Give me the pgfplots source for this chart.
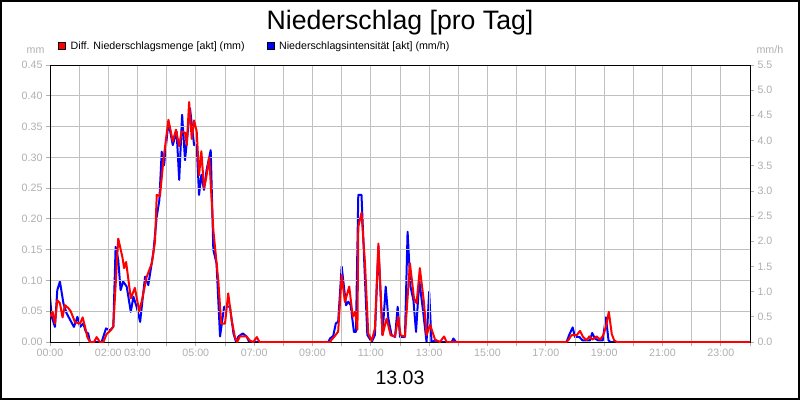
\documentclass[border=0pt]{standalone}
\usepackage{fontspec}
\setmainfont{Liberation Sans}
\usepackage{pgfplots}
\pgfplotsset{compat=1.18}
\usepackage{pgfplotstable}

\definecolor{lbl}{RGB}{176,176,176}
\definecolor{gridc}{RGB}{192,192,192}

% Diff. Niederschlagsmenge, mm (left axis); x in hours
\pgfplotstableread{
h mm
0.00 0.041
0.09 0.049
0.17 0.030
0.25 0.068
0.34 0.063
0.43 0.040
0.51 0.060
0.63 0.055
0.71 0.050
0.86 0.032
1.03 0.030
1.12 0.040
1.20 0.025
1.28 0.008
1.37 0
1.51 0
1.60 0.008
1.71 0
1.83 0
1.94 0.013
2.06 0.018
2.17 0.025
2.34 0.168
2.49 0.136
2.54 0.120
2.61 0.130
2.77 0.071
2.91 0.088
3.06 0.050
3.14 0.065
3.31 0.105
3.49 0.128
3.60 0.163
3.66 0.239
3.77 0.237
3.89 0.296
4.06 0.361
4.21 0.326
4.32 0.345
4.43 0.318
4.51 0.342
4.63 0.340
4.69 0.320
4.77 0.390
4.86 0.330
4.94 0.360
5.03 0.342
5.11 0.271
5.19 0.310
5.28 0.250
5.35 0.265
5.46 0.300
5.60 0.182
5.77 0.100
5.87 0.030
6.00 0.030
6.11 0.079
6.23 0.035
6.34 0.008
6.42 0
6.51 0.009
6.74 0.009
6.86 0.002
6.97 0
7.09 0.008
7.18 0
9.60 0
9.66 0.004
9.77 0.010
9.88 0.017
10.00 0.109
10.11 0.065
10.26 0.090
10.38 0.041
10.46 0.049
10.54 0.020
10.57 0.187
10.68 0.210
10.80 0.128
10.91 0.014
11.03 0.002
11.14 0.022
11.26 0.160
11.40 0.011
11.54 0.038
11.68 0.011
11.83 0.009
11.94 0.041
12.02 0.011
12.17 0.009
12.34 0.128
12.48 0.071
12.57 0.063
12.68 0.120
12.82 0.065
12.91 0.011
13.03 0.028
13.20 0.004
13.37 0
13.51 0.009
13.60 0
17.71 0
17.77 0.003
17.88 0.011
18.06 0.011
18.17 0.018
18.28 0.008
18.40 0.003
18.49 0.009
18.60 0.004
18.74 0.009
18.86 0.004
18.97 0.011
19.06 0.025
19.16 0.049
19.26 0.013
19.34 0.003
19.43 0
24.00 0
}\menge

% Niederschlagsintensitaet, mm/h (right axis)
\pgfplotstableread{
h mmh
0.00 0.90
0.06 0.50
0.17 0.30
0.25 1.03
0.34 1.20
0.46 0.77
0.57 0.57
0.69 0.44
0.82 0.30
0.94 0.50
1.03 0.30
1.14 0.37
1.23 0.20
1.31 0.17
1.37 0
1.77 0
1.92 0.27
2.06 0.23
2.17 0.30
2.25 1.89
2.34 1.63
2.42 1.03
2.51 1.20
2.63 1.10
2.77 0.60
2.86 0.90
2.97 0.70
3.09 0.40
3.26 1.30
3.37 1.13
3.54 1.76
3.66 2.49
3.75 2.82
3.83 3.78
3.91 3.51
4.06 4.37
4.21 3.91
4.34 4.18
4.43 3.22
4.53 4.51
4.63 3.61
4.80 4.64
4.94 3.91
5.03 3.91
5.11 2.92
5.19 3.32
5.28 3.02
5.37 3.42
5.51 3.81
5.60 1.83
5.71 1.56
5.83 0.11
5.97 0.70
6.17 0.70
6.29 0.17
6.38 0
6.46 0.11
6.61 0.17
6.74 0.11
6.83 0
9.54 0
9.60 0.07
9.71 0.12
9.80 0.37
9.88 0.40
10.00 1.50
10.15 0.73
10.23 0.80
10.31 0.73
10.42 0.20
10.49 0.20
10.57 2.92
10.68 2.92
10.80 1.23
10.88 0.14
11.03 0
11.14 0.14
11.26 1.90
11.40 0.14
11.51 1.10
11.60 0.47
11.71 0.14
11.83 0.10
11.92 0.70
12.00 0.10
12.17 0.10
12.26 2.19
12.36 1.10
12.46 0.83
12.55 0.20
12.66 1.23
12.80 0.57
12.91 0
13.00 1.00
13.08 0
13.20 0.03
13.37 0
13.77 0
13.83 0.07
13.92 0
17.71 0
17.80 0.14
17.92 0.29
18.00 0.10
18.15 0.10
18.26 0.03
18.51 0.03
18.59 0.18
18.68 0.07
18.80 0.03
18.95 0.03
19.06 0.49
19.15 0.03
19.22 0
24.00 0
}\intens

\pgfplotsset{
  layers/chart/.define layer set={axis background,axis grid,axis ticks,axis lines,axis tick labels,main,axis descriptions,axis foreground}{},
  base/.style={
    set layers=chart,
    scale only axis, width=700pt, height=277pt,
    at={(50pt,58pt)}, anchor=south west,
    xmin=0, xmax=24, ymin=0,
    tick align=outside, major tick length=4pt,
    tick style={lbl, line width=0.8pt},
    ticklabel style={font=\fontsize{10.67}{12}\selectfont, text=lbl},
    /pgf/number format/assume math mode=true,
    axis line style={black, line width=1pt},
    xtick={0,1,...,24},
    xticklabels={00:00,{},02:00,03:00,{},05:00,{},07:00,{},09:00,{},11:00,{},13:00,{},15:00,{},17:00,{},19:00,{},21:00,{},23:00,{}},
  },
  sq/.style={legend image code/.code={\draw[black, fill=#1, line width=0.5pt] (0pt,-3.5pt) rectangle (7pt,3.5pt);}},
}

\begin{document}
\begin{tikzpicture}
\fill[white] (0,0) rectangle (800pt,400pt);

\begin{axis}[base,
  ymax=5.5,
  hide x axis,
  axis y line*=right,
  ytick={0,0.5,1,1.5,2,2.5,3,3.5,4,4.5,5,5.5},
  yticklabel style={/pgf/number format/.cd, fixed, fixed zerofill, precision=1},
]
\addplot[blue, line width=2pt, line join=round] table[x=h, y=mmh] {\intens};
\end{axis}

\begin{axis}[base,
  ymax=0.45,
  xtick pos=bottom, ytick pos=left,
  ytick={0,0.05,0.1,0.15,0.2,0.25,0.3,0.35,0.4,0.45},
  yticklabel style={/pgf/number format/.cd, fixed, fixed zerofill, precision=2},
  grid=major,
  grid style={gridc, line width=1pt},
  legend columns=2,
  legend cell align=left,
  legend style={at={(axis description cs:0,1)}, anchor=south west,
    xshift=8pt, yshift=12pt, draw=none, fill=none, inner sep=0pt,
    font=\fontsize{10.67}{12}\selectfont,
    nodes={inner sep=2pt},
    /tikz/every odd column/.append style={column sep=3pt},
    /tikz/every even column/.append style={column sep=20pt}},
]
\addplot[red, line width=2pt, line join=round, sq=red] table[x=h, y=mm] {\menge};
\addlegendentry{Diff. Niederschlagsmenge [akt] (mm)}
\addlegendimage{sq=blue}
\addlegendentry{Niederschlagsintensität [akt] (mm/h)}
\end{axis}

\node[anchor=base east, text=lbl, font=\fontsize{10.67}{12}\selectfont] at (48pt,347pt) {mm};
\node[anchor=base west, text=lbl, font=\fontsize{10.67}{12}\selectfont] at (753pt,347pt) {mm/h};
\node[anchor=base, font=\fontsize{26.67}{30}\selectfont] at (400pt,370.5pt) {Niederschlag [pro Tag]};
\node[anchor=base, font=\fontsize{19.5}{22}\selectfont] at (400pt,16pt) {13.03};
\draw[black, line width=2pt] (1pt,1pt) rectangle (799pt,399pt);
\end{tikzpicture}
\end{document}
